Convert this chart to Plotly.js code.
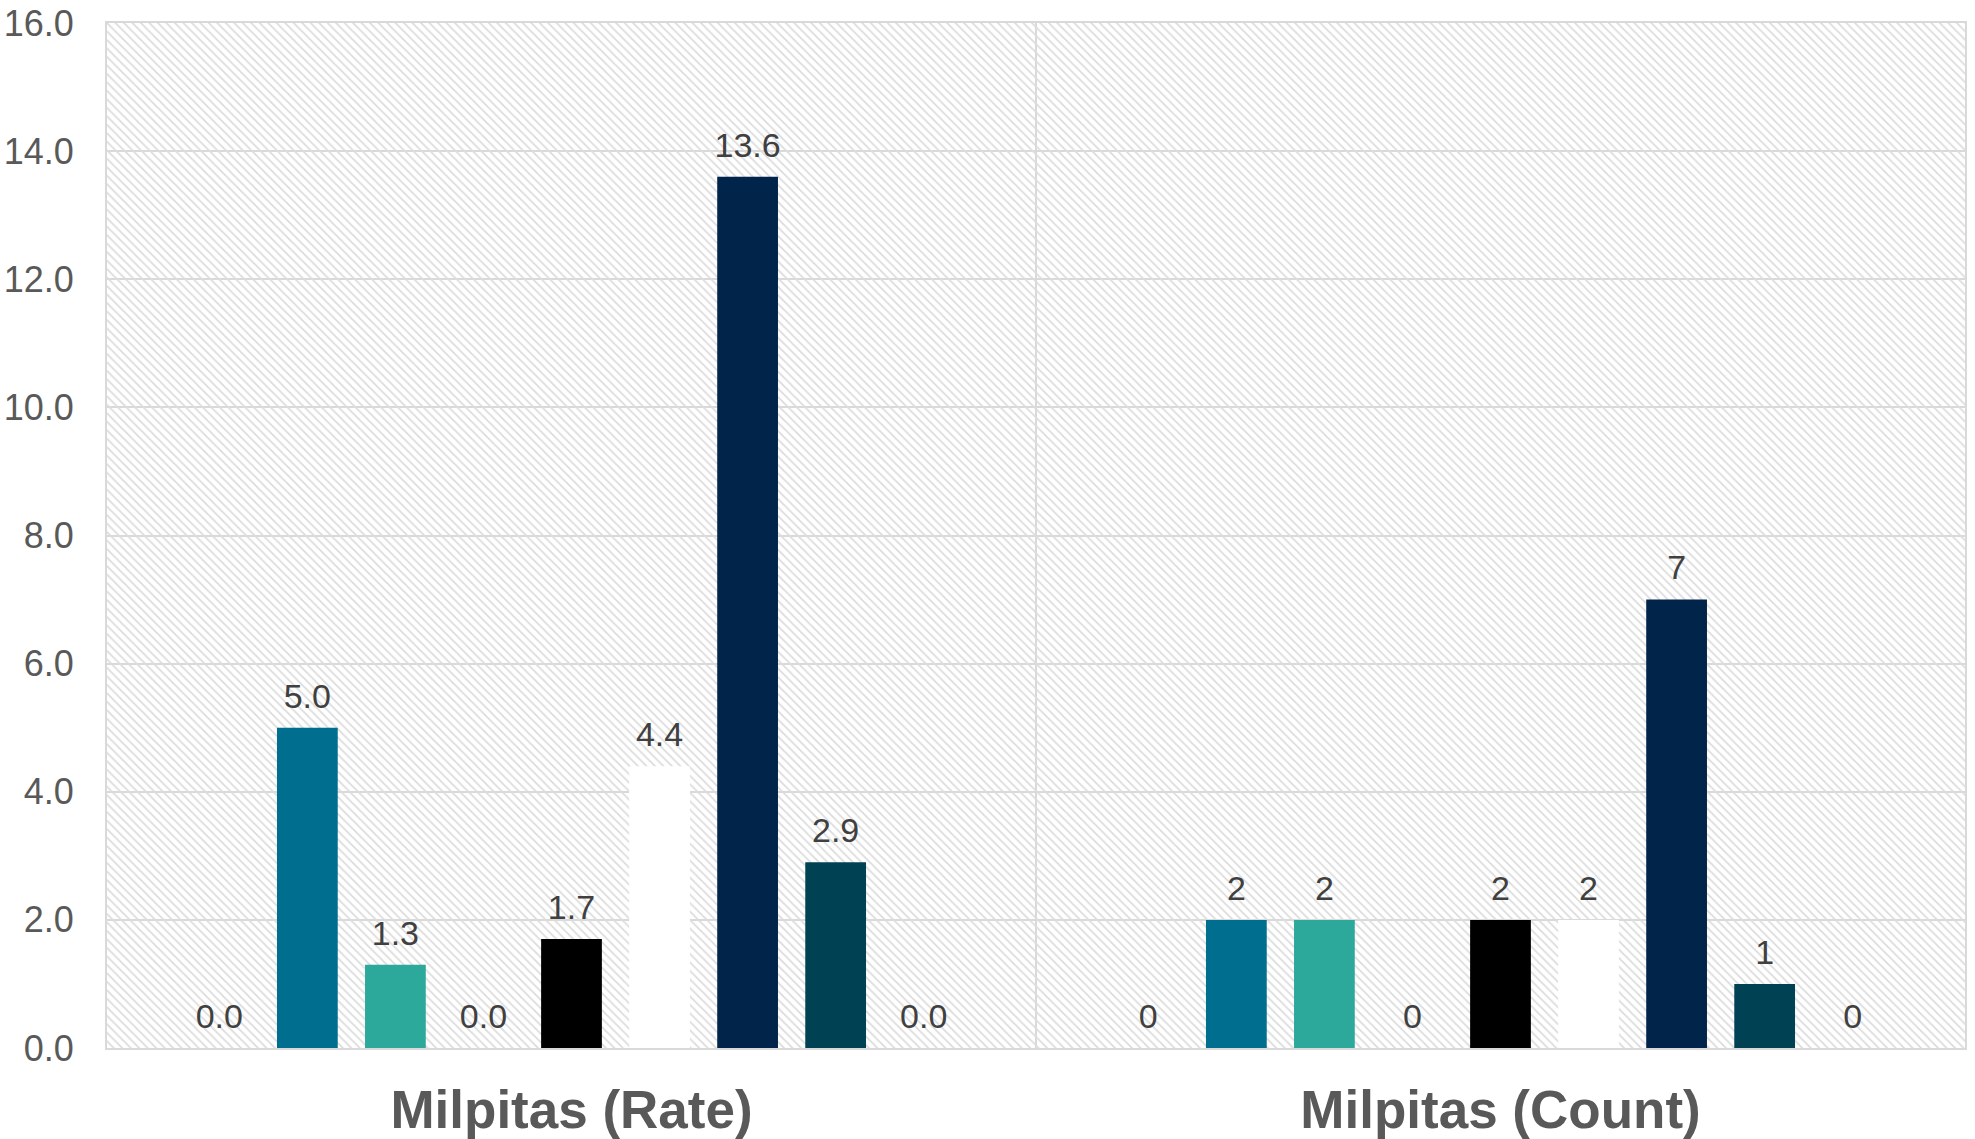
<!DOCTYPE html>
<html><head><meta charset="utf-8">
<script src="https://cdn.plot.ly/plotly-3.0.1.min.js"></script>
<style>html,body{margin:0;padding:0;background:#fff;} #chart{width:1975px;height:1139px;}</style>
</head><body><div id="chart"></div>
<script>
// ---- data ----
const categories = ['Milpitas (Rate)', 'Milpitas (Count)'];
const seriesNames = ['Group 1', 'Group 2', 'Group 3', 'Group 4', 'Group 5', 'Group 6', 'Group 7', 'Group 8', 'Group 9'];
const rateValues = [0.0, 5.0, 1.3, 0.0, 1.7, 4.4, 13.6, 2.9, 0.0];
const countValues = [0, 2, 2, 0, 2, 2, 7, 1, 0];
const seriesColors = ['#7F7F7F', '#006E8F', '#2CA99B', '#A5A5A5', '#000000', '#FFFFFF', '#00244A', '#004254', '#5B9BD5'];
const yAxisMax = 16;
const yTickStep = 2;

const FONT = 'Liberation Sans, Arial, sans-serif';

// ---- traces ----
const traces = [];
// hatched plot-area background (drawn on main subplot, below data)
traces.push({
  type: 'bar', x: [0.5], y: [yAxisMax], width: [1], xaxis: 'x', yaxis: 'y',
  marker: {color: 'rgba(0,0,0,0)', line: {width: 0},
    pattern: {shape: '\\', fgcolor: '#dcdcdc', bgcolor: 'rgba(0,0,0,0)', size: 6, solidity: 0.3}},
  hoverinfo: 'skip', showlegend: false
});
seriesNames.forEach((name, i) => {
  traces.push({
    type: 'bar', name: name, xaxis: 'x2', yaxis: 'y', offsetgroup: 'g' + i,
    x: categories, y: [rateValues[i], countValues[i]],
    marker: {color: seriesColors[i], line: {width: 0}},
    showlegend: false
  });
});
// value labels (grouped scatter text aligned with the bars)
seriesNames.forEach((name, i) => {
  traces.push({
    type: 'scatter', mode: 'markers+text', name: name + ' label', xaxis: 'x2', yaxis: 'y', offsetgroup: 'g' + i,
    x: categories, y: [rateValues[i], countValues[i]],
    text: [rateValues[i].toFixed(1), String(countValues[i])],
    textposition: 'top center', cliponaxis: false,
    textfont: {family: FONT, size: 34, color: '#404040'},
    marker: {size: 17, opacity: 0, color: '#ffffff'},
    hoverinfo: 'skip', showlegend: false
  });
});

const layout = {
  width: 1975, height: 1139,
  margin: {l: 107, r: 10, t: 23, b: 91},
  paper_bgcolor: '#ffffff', plot_bgcolor: '#ffffff',
  barmode: 'group', bargap: 0.147, bargroupgap: 0.31,
  scattermode: 'group', scattergap: 0.147,
  font: {family: FONT, color: '#595959'},
  showlegend: false,
  xaxis: {range: [0, 1], visible: false, fixedrange: true},
  xaxis2: {
    overlaying: 'x', type: 'category', side: 'bottom',
    showgrid: true, tickson: 'boundaries', gridcolor: '#d9d9d9', gridwidth: 2,
    showline: true, mirror: true, linecolor: '#d9d9d9', linewidth: 2,
    ticks: '', ticklabelstandoff: 14,
    tickfont: {family: FONT, size: 53, color: '#595959', weight: 'bold'}
  },
  yaxis: {
    range: [0, yAxisMax], dtick: yTickStep, tick0: 0, tickformat: '.1f',
    showgrid: true, gridcolor: '#d9d9d9', gridwidth: 2, zeroline: false,
    showline: true, mirror: true, linecolor: '#d9d9d9', linewidth: 2,
    ticks: '', ticklabelstandoff: 24,
    tickfont: {family: FONT, size: 36, color: '#595959'}
  }
};

Plotly.newPlot('chart', traces, layout, {displayModeBar: false, staticPlot: true});
</script>
</body></html>
